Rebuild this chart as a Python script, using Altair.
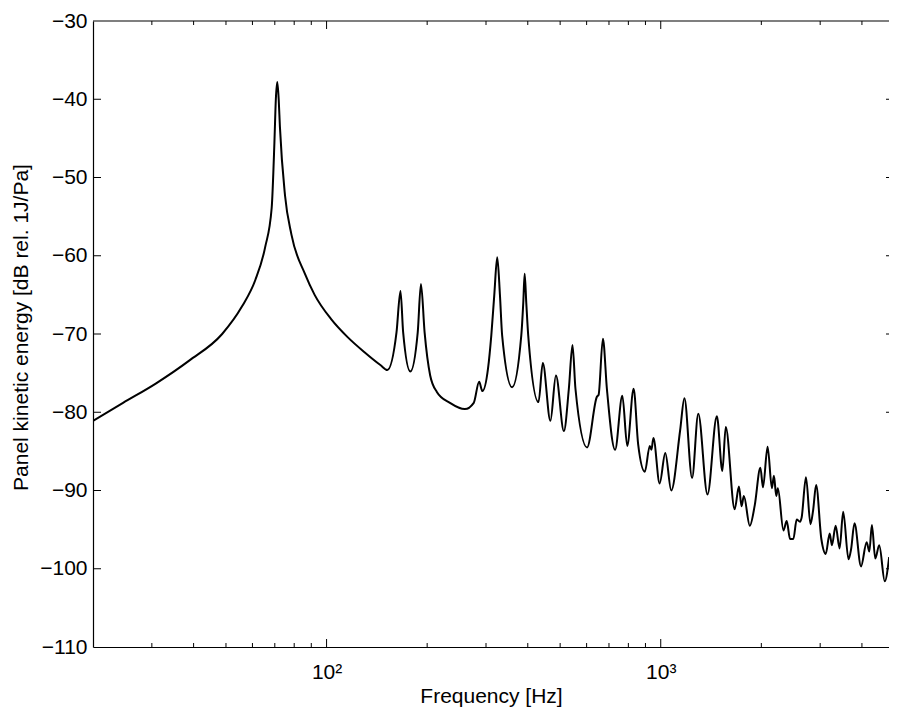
import altair as alt
import pandas as pd

# ---- data ----
freq_hz = [
    20.0, 24.6, 30.9, 38.8, 48.7, 55.8, 61.2, 65.5, 68.5, 69.8, 70.5, 71.2, 71.9,
    72.5, 75.1, 78.5, 86.1, 92.1, 103.2, 115.6, 129.6, 145.2, 152.0,
    161.9, 166.4, 169.5, 178.1, 187.4, 191.6, 196.5, 204.2, 213.8, 234.0, 259.3,
    275.7, 286.1, 292.6, 304.2, 311.1, 317.6, 324.1, 330.2, 335.3, 359.1,
    382.5, 387.8, 391.5, 395.9, 401.3, 430.8, 443.6, 467.5, 485.7, 513.0,
    530.9, 544.4, 555.6, 601.9, 644.4, 651.5, 671.3, 690.0, 730.1, 767.4,
    794.0, 829.5, 855.9, 896.1, 927.2, 937.8, 950.7, 992.4, 1031.8, 1075.0,
    1143, 1177, 1241, 1295, 1380, 1472, 1529, 1565, 1664, 1714, 1745, 1773,
    1847, 1911, 1987, 2023, 2088, 2151, 2181, 2217, 2241, 2329, 2382, 2438,
    2494, 2551, 2611, 2639, 2720, 2806, 2858, 2917, 3024, 3117, 3203, 3253,
    3337, 3430, 3515, 3647, 3712, 3800, 3975, 4132, 4209, 4284, 4385, 4506,
    4682, 4825,
]
level_db = [
    -81.1, -78.8, -76.3, -73.4, -70.0, -66.5, -63.1, -58.9, -53.9, -45.6, -40.0, -37.8, -40.0,
    -43.5, -52.3, -57.3, -62.3, -65.0, -68.1, -70.4, -72.3, -74.0, -74.6,
    -69.8, -64.5, -69.8, -74.8, -69.8, -63.6, -69.8, -75.3, -77.4, -78.8, -79.6,
    -78.8, -76.1, -77.3, -74.4, -70.2, -65.0, -60.2, -65.0, -70.2, -76.8,
    -70.2, -66.0, -62.3, -66.0, -70.2, -78.7, -73.7, -81.1, -75.3, -82.4,
    -77.0, -71.4, -77.0, -84.5, -78.0, -77.8, -70.6, -77.0, -84.8, -77.9,
    -84.3, -77.0, -84.1, -87.6, -84.3, -84.8, -83.3, -89.1, -85.2, -90.0,
    -82.3, -78.2, -88.4, -80.2, -90.5, -80.5, -87.5, -81.9, -92.4, -89.5, -92.0, -90.7,
    -94.5, -91.9, -87.1, -89.6, -84.4, -89.7, -88.1, -90.7, -89.7, -95.1, -93.9, -96.2,
    -96.2, -93.7, -94.0, -93.5, -88.3, -94.3, -92.5, -89.3, -96.2, -98.1, -95.5, -97.0,
    -94.5, -97.4, -92.7, -98.8, -97.5, -94.2, -99.7, -96.6, -97.8, -94.4, -98.7, -97.0,
    -101.6, -98.5,
]
minor_ticks_hz = [30, 40, 50, 60, 70, 80, 90, 200, 300, 400, 500, 600, 700, 800, 900,
                  2000, 3000, 4000]
major_ticks_hz = [100, 1000]
y_ticks_db = [-110, -100, -90, -80, -70, -60, -50, -40, -30]
y_inner_ticks_db = [-100, -90, -80, -70, -60, -50, -40]

W, H = 796, 626
FONT = "Liberation Sans"
FS = 21

xscale = alt.Scale(type="log", domain=[20, 4820], nice=False)
yscale = alt.Scale(domain=[-110, -30], nice=False, zero=False)

curve_df = pd.DataFrame({"f": freq_hz, "db": level_db})
minor_df = pd.DataFrame({"f": minor_ticks_hz})
major_df = pd.DataFrame({"f": major_ticks_hz})
ytick_df = pd.DataFrame({"db": y_inner_ticks_db})
one_df = pd.DataFrame({"a": [0]})

x_axis = alt.Axis(
    values=major_ticks_hz,
    labelExpr="datum.value == 100 ? '10²' : '10³'",
    ticks=False,
    grid=False,
    domain=True,
    domainColor="black",
    domainWidth=1.2,
    labelPadding=14,
    labelFlush=False,
    labelOverlap=False,
    title="Frequency [Hz]",
    titleY=38,
    titleBaseline="top",
)
y_axis = alt.Axis(
    values=y_ticks_db,
    ticks=False,
    grid=False,
    domain=True,
    domainColor="black",
    domainWidth=1.2,
    labelPadding=6,
    labelOverlap=False,
    title="Panel kinetic energy [dB rel. 1J/Pa]",
    titleX=-72,
    titleY=306,
    titleBaseline="middle",
)

curve = alt.Chart(curve_df).mark_line(
    color="black", strokeWidth=2, clip=True, interpolate="monotone"
).encode(
    x=alt.X("f:Q", scale=xscale, axis=x_axis),
    y=alt.Y("db:Q", scale=yscale, axis=y_axis),
)

top_border = alt.Chart(one_df).mark_rule(color="black", strokeWidth=1.2).encode(
    x=alt.value(0), x2=alt.value(W), y=alt.value(0)
)

tick_style = dict(color="black", strokeWidth=1)
bottom_minor = alt.Chart(minor_df).mark_rule(**tick_style).encode(
    x=alt.X("f:Q", scale=xscale, axis=x_axis), y=alt.value(H), y2=alt.value(H - 4)
)
top_minor = alt.Chart(minor_df).mark_rule(**tick_style).encode(
    x=alt.X("f:Q", scale=xscale, axis=x_axis), y=alt.value(0), y2=alt.value(4)
)
bottom_major = alt.Chart(major_df).mark_rule(**tick_style).encode(
    x=alt.X("f:Q", scale=xscale, axis=x_axis), y=alt.value(H), y2=alt.value(H - 8)
)
top_major = alt.Chart(major_df).mark_rule(**tick_style).encode(
    x=alt.X("f:Q", scale=xscale, axis=x_axis), y=alt.value(0), y2=alt.value(8)
)
left_ticks = alt.Chart(ytick_df).mark_rule(**tick_style).encode(
    y=alt.Y("db:Q", scale=yscale, axis=y_axis), x=alt.value(0), x2=alt.value(8)
)
right_ticks = alt.Chart(ytick_df).mark_rule(**tick_style).encode(
    y=alt.Y("db:Q", scale=yscale, axis=y_axis), x=alt.value(W - 3), x2=alt.value(W)
)

chart = (
    alt.layer(curve, top_border, bottom_minor, top_minor, bottom_major, top_major,
              left_ticks, right_ticks)
    .properties(
        width=W,
        height=H,
        autosize=alt.AutoSizeParams(type="none"),
        padding={"left": 85, "top": 13, "right": 0, "bottom": 60},
    )
    .configure_view(strokeOpacity=0)
    .configure_axis(
        labelFont=FONT,
        titleFont=FONT,
        labelFontSize=FS,
        titleFontSize=FS,
        labelColor="black",
        titleColor="black",
        titleFontWeight="normal",
    )
)

chart.save("out.html", embed_options={"renderer": "svg", "actions": False})
